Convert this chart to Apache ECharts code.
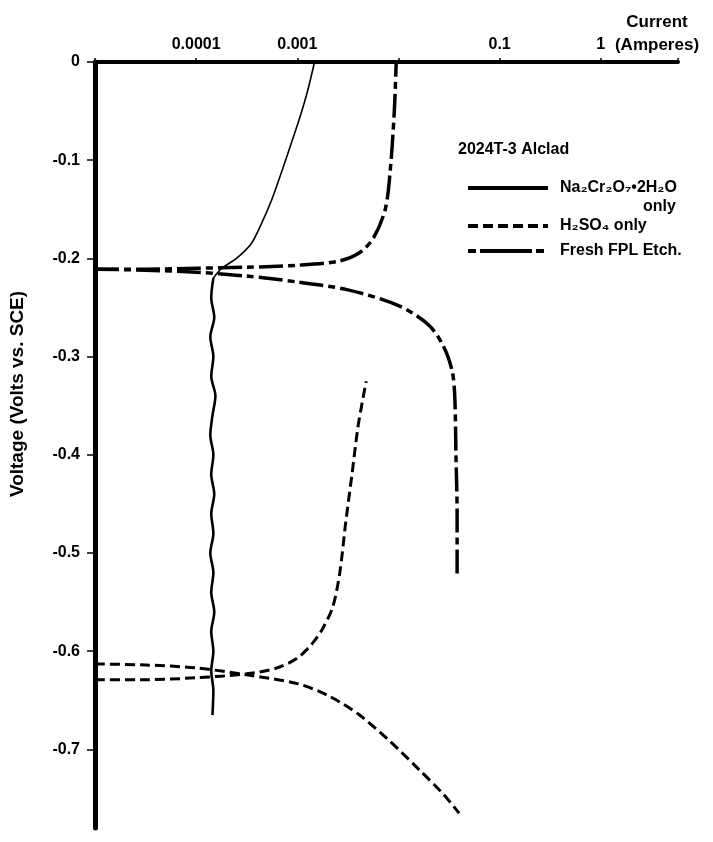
<!DOCTYPE html>
<html><head><meta charset="utf-8">
<script src="https://cdn.jsdelivr.net/npm/echarts@6/dist/echarts.min.js"></script>
<style>html,body{margin:0;padding:0;background:#fff}#c{width:713px;height:842px}</style>
</head><body><div id="c"></div>
<script>
// ---- tick labels ----
const xTickValues = [0.0001, 0.001, 0.1, 1];
const xTickLabels = ['0.0001', '0.001', '0.1', '1'];
const yTickValues = [0, -0.1, -0.2, -0.3, -0.4, -0.5, -0.6, -0.7];
const yTickLabels = ['0', '-0.1', '-0.2', '-0.3', '-0.4', '-0.5', '-0.6', '-0.7'];

// ---- series names ----
const seriesNames = ['Na₂Cr₂O₇•2H₂O', 'H₂SO₄ only', 'Fresh FPL Etch.'];

// ---- Na2Cr2O7·2H2O only (current in A, voltage in V vs SCE): upper (anodic) part ----
const naUpperCurrent = [1.48e-3, 1.26e-3, 1.07e-3, 8.9e-4, 7.1e-4, 5.6e-4, 4.4e-4, 3.5e-4, 2.5e-4, 1.8e-4, 1.48e-4];
const naUpperVoltage = [0, -0.03, -0.055, -0.08, -0.11, -0.14, -0.165, -0.185, -0.2, -0.21, -0.22];
// ---- Na2Cr2O7·2H2O only: lower (cathodic) part ----
const naLowerCurrent = [1.48e-4, 1.41e-4, 1.51e-4, 1.38e-4, 1.48e-4, 1.41e-4, 1.55e-4, 1.45e-4, 1.38e-4, 1.48e-4, 1.41e-4, 1.51e-4,
  1.41e-4, 1.48e-4, 1.38e-4, 1.48e-4, 1.41e-4, 1.51e-4, 1.41e-4, 1.48e-4, 1.41e-4, 1.48e-4, 1.45e-4];
const naLowerVoltage = [-0.22, -0.24, -0.26, -0.28, -0.30, -0.32, -0.34, -0.36, -0.38, -0.40, -0.42, -0.44,
  -0.46, -0.48, -0.50, -0.52, -0.54, -0.56, -0.58, -0.60, -0.62, -0.64, -0.665];

// ---- H2SO4 only: anodic branch ----
const h2AnodicCurrent = [1e-5, 3.16e-5, 1e-4, 3.16e-4, 6.3e-4, 1.0e-3, 1.41e-3, 1.78e-3, 2.24e-3, 2.63e-3, 3.0e-3, 3.47e-3, 4.0e-3, 4.8e-3];
const h2AnodicVoltage = [-0.629, -0.629, -0.627, -0.623, -0.617, -0.607, -0.592, -0.577, -0.555, -0.52, -0.47, -0.42, -0.37, -0.325];
// ---- H2SO4 only: cathodic branch ----
const h2CathodicCurrent = [1e-5, 3.16e-5, 1e-4, 3.16e-4, 1e-3, 2.0e-3, 4.0e-3, 7.9e-3, 1.58e-2, 2.8e-2, 3.98e-2];
const h2CathodicVoltage = [-0.613, -0.614, -0.617, -0.624, -0.633, -0.645, -0.664, -0.69, -0.72, -0.746, -0.765];

// ---- Fresh FPL Etch: anodic branch ----
const fplAnodicCurrent = [1e-5, 3.16e-5, 1e-4, 3.16e-4, 1e-3, 2.5e-3, 4.0e-3, 5.6e-3, 7.4e-3, 8.3e-3, 9.1e-3, 9.5e-3];
const fplAnodicVoltage = [-0.211, -0.211, -0.21, -0.209, -0.207, -0.203, -0.195, -0.18, -0.15, -0.11, -0.05, 0];
// ---- Fresh FPL Etch: cathodic branch ----
const fplCathodicCurrent = [1e-5, 3.16e-5, 1e-4, 3.16e-4, 1e-3, 3.16e-3, 1e-2, 2.0e-2, 2.8e-2, 3.4e-2, 3.6e-2, 3.7e-2, 3.8e-2, 3.8e-2];
const fplCathodicVoltage = [-0.211, -0.212, -0.214, -0.218, -0.224, -0.232, -0.248, -0.268, -0.29, -0.315, -0.34, -0.4, -0.46, -0.525];

const pairs = (xs, ys) => xs.map((x, i) => [x, ys[i]]);
const FONT = '"Liberation Sans", Arial, Helvetica, "DejaVu Sans", sans-serif';

const naThinStyle = { color: '#000', width: 1.6, type: 'solid' };
const naThickStyle = { color: '#000', width: 2.6, type: 'solid' };
const h2Style = { color: '#000', width: 3, type: [10, 5] };
const fplStyle = { color: '#000', width: 3.5, type: [24, 5, 7, 5] };

function lineSeries(name, data, style) {
  return { type: 'line', name, data, symbol: 'none', showSymbol: false, smooth: 0.3,
    lineStyle: style, itemStyle: { color: '#000' }, animation: false, z: 3 };
}

function legendFor(name, top, lineStyle) {
  return { data: [name], left: 466, top: top, orient: 'vertical', padding: 0,
    itemWidth: 80, itemHeight: 14, itemGap: 0,
    itemStyle: { opacity: 0, color: 'rgba(0,0,0,0)', borderWidth: 0 },
    lineStyle: lineStyle,
    textStyle: { color: '#000', fontSize: 16, fontWeight: 'bold', fontFamily: FONT, padding: [0, 0, 0, 7] } };
}

const chart = echarts.init(document.getElementById('c'), null, { renderer: 'canvas' });
chart.setOption({
  backgroundColor: '#fff',
  animation: false,
  grid: { left: 95, top: 62, right: 35, bottom: 14, containLabel: false },
  xAxis: {
    type: 'log', logBase: 10, position: 'top', min: 1e-5, max: 5.8,
    axisLine: { show: true, onZero: false, lineStyle: { color: '#000', width: 4 } },
    axisTick: { show: true, inside: false, length: 4, lineStyle: { color: '#000', width: 1.5 } },
    minorTick: { show: false }, splitLine: { show: false },
    axisLabel: {
      margin: 9, color: '#000', fontSize: 16, fontWeight: 'bold', fontFamily: FONT,
      formatter: v => { const p = Math.round(Math.log10(v)); const i = xTickValues.findIndex(t => Math.round(Math.log10(t)) === p); return i >= 0 ? xTickLabels[i] : ''; }
    }
  },
  yAxis: {
    type: 'value', min: -0.78, max: 0,
    axisLine: { show: true, onZero: false, lineStyle: { color: '#000', width: 5 } },
    axisTick: { show: true, inside: false, length: 8, customValues: yTickValues, lineStyle: { color: '#000', width: 1.5 } },
    splitLine: { show: false },
    axisLabel: {
      margin: 15, color: '#000', fontSize: 16, fontWeight: 'bold', fontFamily: FONT,
      customValues: yTickValues,
      formatter: v => { const i = yTickValues.findIndex(t => Math.abs(t - v) < 1e-6); return i >= 0 ? yTickLabels[i] : ''; }
    }
  },
  legend: [
    legendFor(seriesNames[0], 180, { width: 4, type: 'solid' }),
    legendFor(seriesNames[1], 218, { width: 4, type: [10, 5] }),
    legendFor(seriesNames[2], 243, { width: 4, type: [8, 4, 52, 4] })
  ],
  graphic: [
    { type: 'text', x: 18, y: 394, rotation: Math.PI / 2,
      style: { text: 'Voltage (Volts vs. SCE)', fill: '#000', fontSize: 19, fontWeight: 'bold', fontFamily: FONT, align: 'center', verticalAlign: 'middle' } },
    { type: 'text', x: 657, y: 22,
      style: { text: 'Current', fill: '#000', fontSize: 17, fontWeight: 'bold', fontFamily: FONT, align: 'center', verticalAlign: 'middle' } },
    { type: 'text', x: 657, y: 45,
      style: { text: '(Amperes)', fill: '#000', fontSize: 17, fontWeight: 'bold', fontFamily: FONT, align: 'center', verticalAlign: 'middle' } },
    { type: 'text', x: 458, y: 150,
      style: { text: '2024T-3 Alclad', fill: '#000', fontSize: 16, fontWeight: 'bold', fontFamily: FONT, align: 'left', verticalAlign: 'middle' } },
    { type: 'text', x: 643, y: 207,
      style: { text: 'only', fill: '#000', fontSize: 16, fontWeight: 'bold', fontFamily: FONT, align: 'left', verticalAlign: 'middle' } }
  ],
  series: [
    lineSeries(seriesNames[0], pairs(naUpperCurrent, naUpperVoltage), naThinStyle),
    lineSeries(seriesNames[0], pairs(naLowerCurrent, naLowerVoltage), naThickStyle),
    lineSeries(seriesNames[1], pairs(h2AnodicCurrent, h2AnodicVoltage), h2Style),
    lineSeries(seriesNames[1], pairs(h2CathodicCurrent, h2CathodicVoltage), h2Style),
    lineSeries(seriesNames[2], pairs(fplAnodicCurrent, fplAnodicVoltage), fplStyle),
    lineSeries(seriesNames[2], pairs(fplCathodicCurrent, fplCathodicVoltage), fplStyle)
  ]
});
</script></body></html>
